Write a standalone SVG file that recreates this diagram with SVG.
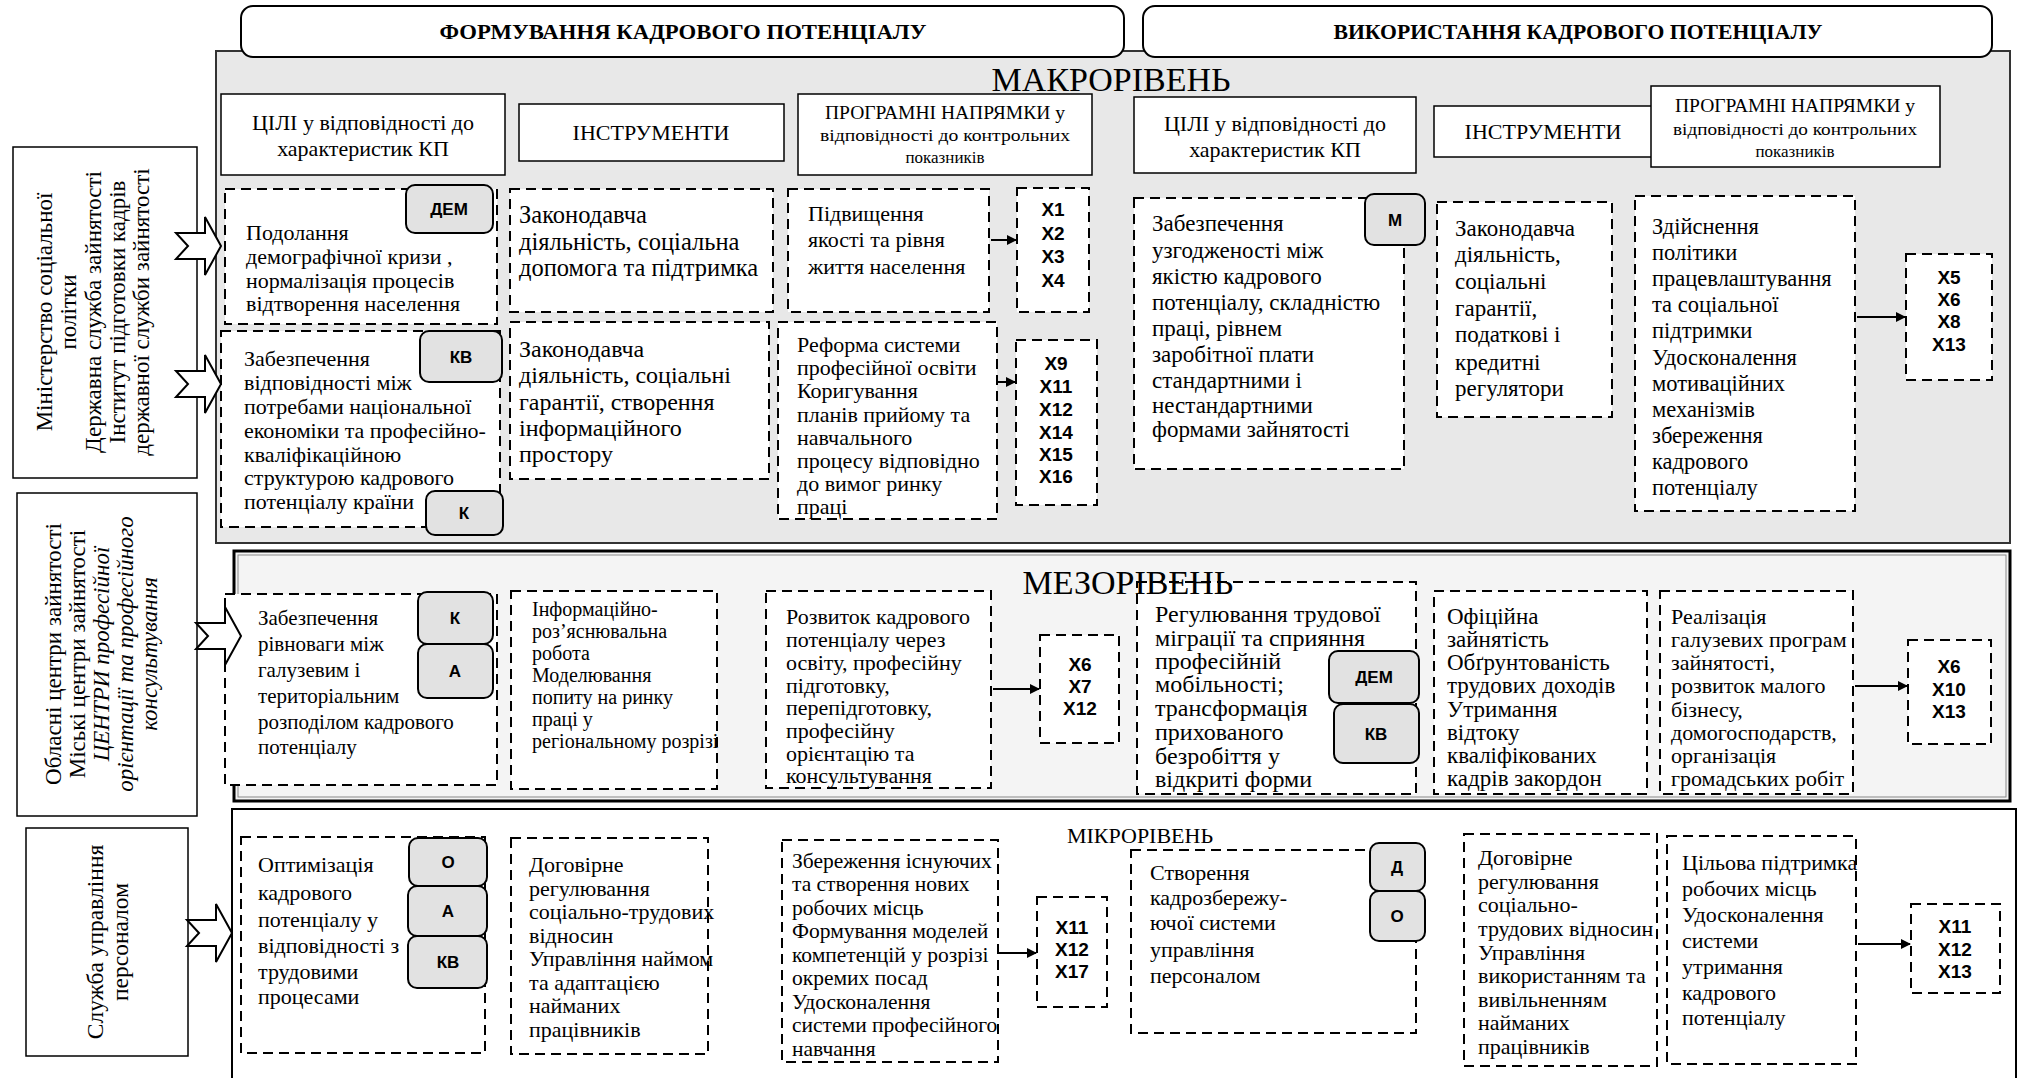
<svg xmlns="http://www.w3.org/2000/svg" width="2019" height="1078" viewBox="0 0 2019 1078">
<style>
.t{font-family:"Liberation Serif","Times New Roman","DejaVu Serif",serif;font-size:22px;fill:#000}
.h{font-family:"Liberation Serif","Times New Roman","DejaVu Serif",serif;font-size:22px;fill:#000;text-anchor:middle}
.hb{font-family:"Liberation Serif","Times New Roman","DejaVu Serif",serif;font-size:22px;font-weight:bold;fill:#000;text-anchor:middle}
.lv{font-family:"Liberation Serif","Times New Roman","DejaVu Serif",serif;font-size:34px;fill:#000;text-anchor:middle}
.bg{font-family:"Liberation Sans",Arial,sans-serif;font-weight:bold;font-size:17px;fill:#000;text-anchor:middle}
.x{font-family:"Liberation Sans",Arial,sans-serif;font-weight:bold;font-size:19px;fill:#000;text-anchor:middle}
.d{fill:#fff;stroke:#000;stroke-width:2;stroke-dasharray:10 6}
.s{fill:#fff;stroke:#000;stroke-width:1.5}
.badge{fill:#e2e2e2;stroke:#000;stroke-width:2}
.ba{fill:#fff;stroke:#000;stroke-width:2}
.cn{stroke:#000;stroke-width:2;fill:none}
</style>
<defs>
<marker id="ah" markerWidth="10" markerHeight="10" refX="9" refY="5" orient="auto" markerUnits="userSpaceOnUse">
<path d="M0,0 L10,5 L0,10 Z" fill="#000"/>
</marker>
</defs>

<!-- panels -->
<rect x="216" y="51" width="1794" height="492" fill="#e8e8e8" stroke="#333" stroke-width="2"/>
<rect x="234" y="551" width="1776" height="250" fill="#f4f4f4" stroke="#000" stroke-width="3"/>
<rect x="238" y="555" width="1768" height="242" fill="none" stroke="#888" stroke-width="1"/>
<rect x="232" y="809" width="1784" height="280" fill="#fff" stroke="#000" stroke-width="2"/>

<!-- headers -->
<g id="hdr-form"><rect x="241" y="6" width="883" height="51" rx="12" class="ba"/><text class="hb" x="683" y="39" textLength="487" lengthAdjust="spacingAndGlyphs">ФОРМУВАННЯ КАДРОВОГО ПОТЕНЦІАЛУ</text></g>
<g id="hdr-use"><rect x="1143" y="6" width="849" height="51" rx="12" class="ba"/><text class="hb" x="1578" y="39" textLength="489" lengthAdjust="spacingAndGlyphs">ВИКОРИСТАННЯ КАДРОВОГО ПОТЕНЦІАЛУ</text></g>

<!-- column headers -->
<g id="h-goals1"><rect x="221" y="94" width="284" height="81" class="s"/><text class="h"><tspan x="363" y="130">ЦІЛІ у відповідності до</tspan><tspan x="363" y="156">характеристик КП</tspan></text></g>
<g id="h-tools1"><rect x="519" y="104" width="265" height="57" class="s"/><text class="h" x="651" y="140">ІНСТРУМЕНТИ</text></g>
<g id="h-prog1"><rect x="798" y="94" width="294" height="81" class="s"/>
<text class="h" x="945" y="119" style="font-size:18px" textLength="240" lengthAdjust="spacingAndGlyphs">ПРОГРАМНІ НАПРЯМКИ у</text>
<text class="h" x="945" y="141" style="font-size:17px" textLength="250" lengthAdjust="spacingAndGlyphs">відповідності до контрольних</text>
<text class="h" x="945" y="163" style="font-size:17px">показників</text></g>
<g id="h-goals2"><rect x="1134" y="97" width="282" height="76" class="s"/><text class="h"><tspan x="1275" y="131">ЦІЛІ у відповідності до</tspan><tspan x="1275" y="157">характеристик КП</tspan></text></g>
<g id="h-tools2"><rect x="1434" y="106" width="218" height="51" class="s"/><text class="h" x="1543" y="139">ІНСТРУМЕНТИ</text></g>
<g id="h-prog2"><rect x="1651" y="86" width="289" height="81" class="s"/>
<text class="h" x="1795" y="112" style="font-size:18px" textLength="240" lengthAdjust="spacingAndGlyphs">ПРОГРАМНІ НАПРЯМКИ у</text>
<text class="h" x="1795" y="135" style="font-size:17px" textLength="244" lengthAdjust="spacingAndGlyphs">відповідності до контрольних</text>
<text class="h" x="1795" y="157" style="font-size:17px">показників</text></g>

<!-- left actor boxes -->
<g id="actor-macro"><rect x="13" y="147" width="184" height="331" class="s"/>
<text class="h" style="font-size:23px" transform="translate(52,312) rotate(-90)">Міністерство соціальної</text>
<text class="h" style="font-size:23px" transform="translate(76,312) rotate(-90)">політки</text>
<text class="h" style="font-size:23px" transform="translate(101,312) rotate(-90)">Державна  служба зайнятості</text>
<text class="h" style="font-size:23px" transform="translate(125,312) rotate(-90)">Інститут підготовки кадрів</text>
<text class="h" style="font-size:23px" transform="translate(149,312) rotate(-90)">державної служби зайнятості</text></g>
<g id="actor-meso"><rect x="17" y="493" width="180" height="323" class="s"/>
<text class="h" style="font-size:23px" transform="translate(61,654) rotate(-90)">Обласні центри зайнятості</text>
<text class="h" style="font-size:23px" transform="translate(85,654) rotate(-90)">Міські центри зайнятості</text>
<text class="h" style="font-size:23px" transform="translate(109,654) rotate(-90)" font-style="italic">ЦЕНТРИ професійної</text>
<text class="h" style="font-size:23px" transform="translate(133,654) rotate(-90)" font-style="italic">орієнтації та професійного</text>
<text class="h" style="font-size:23px" transform="translate(157,654) rotate(-90)" font-style="italic">консультування</text></g>
<g id="actor-micro"><rect x="26" y="828" width="162" height="228" class="s"/>
<text class="h" style="font-size:23.5px" transform="translate(103,942) rotate(-90)">Служба управління</text>
<text class="h" style="font-size:23.5px" transform="translate(128,942) rotate(-90)">персоналом</text></g>

<!-- MACRO -->
<g id="m-goal-dem"><rect x="225" y="189" width="272" height="135" class="d"/>
<text class="t"><tspan x="246" y="240">Подолання</tspan><tspan x="246" y="264">демографічної кризи ,</tspan><tspan x="246" y="288">нормалізація  процесів</tspan><tspan x="246" y="311">відтворення населення</tspan></text>
<rect x="406" y="185" width="87" height="48" rx="9" class="badge"/><text class="bg" x="449" y="215">ДЕМ</text></g>

<g id="m-tool1"><rect x="510" y="189" width="263" height="123" class="d"/>
<text class="t" style="font-size:24.5px"><tspan x="519" y="223">Законодавча</tspan><tspan x="519" y="250">діяльність, соціальна</tspan><tspan x="519" y="276">допомога та підтримка</tspan></text></g>

<g id="m-prog1"><rect x="788" y="189" width="201" height="123" class="d"/>
<text class="t"><tspan x="808" y="221">Підвищення</tspan><tspan x="808" y="247">якості та рівня</tspan><tspan x="808" y="274">життя населення</tspan></text></g>

<g id="m-x1"><rect x="1017" y="188" width="72" height="124" class="d"/>
<text class="x"><tspan x="1053" y="216">X1</tspan><tspan x="1053" y="240">X2</tspan><tspan x="1053" y="263">X3</tspan><tspan x="1053" y="287">X4</tspan></text></g>

<g id="m-goal-kv"><rect x="221" y="331" width="279" height="196" class="d"/>
<text class="t"><tspan x="244" y="366">Забезпечення</tspan><tspan x="244" y="390">відповідності між</tspan><tspan x="244" y="414">потребами національної</tspan><tspan x="244" y="438">економіки та професійно-</tspan><tspan x="244" y="462">кваліфікаційною</tspan><tspan x="244" y="485">структурою кадрового</tspan><tspan x="244" y="509">потенціалу країни</tspan></text>
<rect x="420" y="331" width="82" height="51" rx="9" class="badge"/><text class="bg" x="461" y="363">КВ</text>
<rect x="426" y="491" width="77" height="44" rx="9" class="badge"/><text class="bg" x="464" y="519">К</text></g>

<g id="m-tool2"><rect x="510" y="322" width="259" height="157" class="d"/>
<text class="t" style="font-size:24px"><tspan x="519" y="357">Законодавча</tspan><tspan x="519" y="383">діяльність, соціальні</tspan><tspan x="519" y="410">гарантії,  створення</tspan><tspan x="519" y="436">інформаційного</tspan><tspan x="519" y="462">простору</tspan></text></g>

<g id="m-prog2"><rect x="778" y="322" width="219" height="197" class="d"/>
<text class="t"><tspan x="797" y="352">Реформа системи</tspan><tspan x="797" y="375">професійної освіти</tspan><tspan x="797" y="398">Коригування</tspan><tspan x="797" y="422">планів прийому та</tspan><tspan x="797" y="445">навчального</tspan><tspan x="797" y="468">процесу відповідно</tspan><tspan x="797" y="491">до вимог ринку</tspan><tspan x="797" y="514">праці</tspan></text></g>

<g id="m-x2"><rect x="1016" y="340" width="81" height="165" class="d"/>
<text class="x"><tspan x="1056" y="370">X9</tspan><tspan x="1056" y="393">X11</tspan><tspan x="1056" y="416">X12</tspan><tspan x="1056" y="439">X14</tspan><tspan x="1056" y="461">X15</tspan><tspan x="1056" y="483">X16</tspan></text></g>

<g id="m-goal-m"><rect x="1134" y="198" width="270" height="271" class="d"/>
<text class="t" style="font-size:23px"><tspan x="1152" y="231">Забезпечення</tspan><tspan x="1152" y="258">узгодженості між</tspan><tspan x="1152" y="284">якістю кадрового</tspan><tspan x="1152" y="310">потенціалу, складністю</tspan><tspan x="1152" y="336">праці, рівнем</tspan><tspan x="1152" y="362">заробітної плати</tspan><tspan x="1152" y="388">стандартними і</tspan><tspan x="1152" y="413">нестандартними</tspan><tspan x="1152" y="437">формами зайнятості</tspan></text>
<rect x="1365" y="194" width="60" height="51" rx="9" class="badge"/><text class="bg" x="1395" y="226">М</text></g>

<g id="m-tool3"><rect x="1437" y="202" width="175" height="215" class="d"/>
<text class="t" style="font-size:23px"><tspan x="1455" y="236">Законодавча</tspan><tspan x="1455" y="262">діяльність,</tspan><tspan x="1455" y="289">соціальні</tspan><tspan x="1455" y="316">гарантії,</tspan><tspan x="1455" y="342">податкові і</tspan><tspan x="1455" y="370">кредитні</tspan><tspan x="1455" y="396">регулятори</tspan></text></g>

<g id="m-prog3"><rect x="1635" y="196" width="220" height="315" class="d"/>
<text class="t" style="font-size:22.5px"><tspan x="1652" y="234">Здійснення</tspan><tspan x="1652" y="260">політики</tspan><tspan x="1652" y="286">працевлаштування</tspan><tspan x="1652" y="312">та соціальної</tspan><tspan x="1652" y="338">підтримки</tspan><tspan x="1652" y="365">Удосконалення</tspan><tspan x="1652" y="391">мотиваційних</tspan><tspan x="1652" y="417">механізмів</tspan><tspan x="1652" y="443">збереження</tspan><tspan x="1652" y="469">кадрового</tspan><tspan x="1652" y="495">потенціалу</tspan></text></g>

<g id="m-x3"><rect x="1906" y="254" width="86" height="126" class="d"/>
<text class="x"><tspan x="1949" y="284">X5</tspan><tspan x="1949" y="306">X6</tspan><tspan x="1949" y="328">X8</tspan><tspan x="1949" y="351">X13</tspan></text></g>

<!-- MESO -->
<g id="s-goal"><rect x="225" y="594" width="272" height="191" class="d"/>
<text class="t" style="font-size:21px"><tspan x="258" y="625">Забезпечення</tspan><tspan x="258" y="651">рівноваги між</tspan><tspan x="258" y="677">галузевим і</tspan><tspan x="258" y="703">територіальним</tspan><tspan x="258" y="729">розподілом кадрового</tspan><tspan x="258" y="754">потенціалу</tspan></text>
<rect x="418" y="592" width="75" height="52" rx="9" class="badge"/><text class="bg" x="455" y="624">К</text>
<rect x="418" y="644" width="75" height="54" rx="9" class="badge"/><text class="bg" x="455" y="677">А</text></g>

<g id="s-tool1"><rect x="511" y="591" width="206" height="198" class="d"/>
<text class="t" style="font-size:20px"><tspan x="532" y="616">Інформаційно-</tspan><tspan x="532" y="638">роз’яснювальна</tspan><tspan x="532" y="660">робота</tspan><tspan x="532" y="682">Моделювання</tspan><tspan x="532" y="704">попиту на ринку</tspan><tspan x="532" y="726">праці у</tspan><tspan x="532" y="748">регіональному розрізі</tspan></text></g>

<g id="s-prog1"><rect x="766" y="591" width="225" height="197" class="d"/>
<text class="t"><tspan x="786" y="624">Розвиток кадрового</tspan><tspan x="786" y="647">потенціалу через</tspan><tspan x="786" y="670">освіту, професійну</tspan><tspan x="786" y="693">підготовку,</tspan><tspan x="786" y="715">перепідготовку,</tspan><tspan x="786" y="738">професійну</tspan><tspan x="786" y="761">орієнтацію та</tspan><tspan x="786" y="783">консультування</tspan></text></g>

<g id="s-x1"><rect x="1040" y="635" width="79" height="108" class="d"/>
<text class="x"><tspan x="1080" y="671">X6</tspan><tspan x="1080" y="693">X7</tspan><tspan x="1080" y="715">X12</tspan></text></g>

<g id="s-goal2"><rect x="1137" y="582" width="279" height="212" class="d"/>
<text class="t" style="font-size:24px"><tspan x="1155" y="622">Регулювання трудової</tspan><tspan x="1155" y="646">міграції та сприяння</tspan><tspan x="1155" y="669">професійній</tspan><tspan x="1155" y="692">мобільності;</tspan><tspan x="1155" y="716">трансформація</tspan><tspan x="1155" y="740">прихованого</tspan><tspan x="1155" y="764">безробіття у</tspan><tspan x="1155" y="787">відкриті форми</tspan></text>
<rect x="1329" y="651" width="90" height="52" rx="9" class="badge"/><text class="bg" x="1374" y="683">ДЕМ</text>
<rect x="1334" y="704" width="85" height="59" rx="9" class="badge"/><text class="bg" x="1376" y="740">КВ</text></g>

<g id="s-tool2"><rect x="1434" y="591" width="213" height="203" class="d"/>
<text class="t" style="font-size:23px"><tspan x="1447" y="624">Офіційна</tspan><tspan x="1447" y="647">зайнятість</tspan><tspan x="1447" y="670">Обґрунтованість</tspan><tspan x="1447" y="693">трудових доходів</tspan><tspan x="1447" y="717">Утримання</tspan><tspan x="1447" y="740">відтоку</tspan><tspan x="1447" y="763">кваліфікованих</tspan><tspan x="1447" y="786">кадрів закордон</tspan></text></g>

<g id="s-prog2"><rect x="1660" y="591" width="193" height="203" class="d"/>
<text class="t"><tspan x="1671" y="624">Реалізація</tspan><tspan x="1671" y="647">галузевих програм</tspan><tspan x="1671" y="670">зайнятості,</tspan><tspan x="1671" y="693">розвиток малого</tspan><tspan x="1671" y="717">бізнесу,</tspan><tspan x="1671" y="740">домогосподарств,</tspan><tspan x="1671" y="763">організація</tspan><tspan x="1671" y="786">громадських робіт</tspan></text></g>

<g id="s-x2"><rect x="1908" y="640" width="83" height="104" class="d"/>
<text class="x"><tspan x="1949" y="673">X6</tspan><tspan x="1949" y="696">X10</tspan><tspan x="1949" y="718">X13</tspan></text></g>

<!-- MICRO -->
<g id="u-goal"><rect x="241" y="837" width="244" height="216" class="d"/>
<text class="t"><tspan x="258" y="872">Оптимізація</tspan><tspan x="258" y="900">кадрового</tspan><tspan x="258" y="927">потенціалу у</tspan><tspan x="258" y="953">відповідності з</tspan><tspan x="258" y="979">трудовими</tspan><tspan x="258" y="1004">процесами</tspan></text>
<rect x="409" y="838" width="78" height="48" rx="9" class="badge"/><text class="bg" x="448" y="868">О</text>
<rect x="408" y="886" width="79" height="50" rx="9" class="badge"/><text class="bg" x="448" y="917">А</text>
<rect x="408" y="936" width="79" height="52" rx="9" class="badge"/><text class="bg" x="448" y="968">КВ</text></g>

<g id="u-tool1"><rect x="511" y="838" width="197" height="216" class="d"/>
<text class="t"><tspan x="529" y="872">Договірне</tspan><tspan x="529" y="896">регулювання</tspan><tspan x="529" y="919">соціально-трудових</tspan><tspan x="529" y="943">відносин</tspan><tspan x="529" y="966">Управління наймом</tspan><tspan x="529" y="990">та адаптацією</tspan><tspan x="529" y="1013">найманих</tspan><tspan x="529" y="1037">працівників</tspan></text></g>

<g id="u-prog1"><rect x="782" y="840" width="216" height="222" class="d"/>
<text class="t" style="font-size:21.5px"><tspan x="792" y="868">Збереження існуючих</tspan><tspan x="792" y="891">та створення нових</tspan><tspan x="792" y="915">робочих місць</tspan><tspan x="792" y="938">Формування моделей</tspan><tspan x="792" y="962">компетенцій у розрізі</tspan><tspan x="792" y="985">окремих посад</tspan><tspan x="792" y="1009">Удосконалення</tspan><tspan x="792" y="1032">системи професійного</tspan><tspan x="792" y="1056">навчання</tspan></text></g>

<g id="u-x1"><rect x="1037" y="897" width="70" height="110" class="d"/>
<text class="x"><tspan x="1072" y="934">X11</tspan><tspan x="1072" y="956">X12</tspan><tspan x="1072" y="978">X17</tspan></text></g>

<g id="u-goal2"><rect x="1131" y="850" width="285" height="183" class="d"/>
<text class="t"><tspan x="1150" y="880">Створення</tspan><tspan x="1150" y="905">кадрозбережу-</tspan><tspan x="1150" y="930">ючої системи</tspan><tspan x="1150" y="957">управління</tspan><tspan x="1150" y="983">персоналом</tspan></text>
<rect x="1370" y="843" width="55" height="48" rx="9" class="badge"/><text class="bg" x="1397" y="873">Д</text>
<rect x="1370" y="891" width="55" height="50" rx="9" class="badge"/><text class="bg" x="1397" y="922">О</text></g>

<g id="u-tool2"><rect x="1464" y="834" width="193" height="232" class="d"/>
<text class="t"><tspan x="1478" y="865">Договірне</tspan><tspan x="1478" y="889">регулювання</tspan><tspan x="1478" y="912">соціально-</tspan><tspan x="1478" y="936">трудових відносин</tspan><tspan x="1478" y="960">Управління</tspan><tspan x="1478" y="983">використанням та</tspan><tspan x="1478" y="1007">вивільненням</tspan><tspan x="1478" y="1030">найманих</tspan><tspan x="1478" y="1054">працівників</tspan></text></g>

<g id="u-prog2"><rect x="1667" y="836" width="189" height="228" class="d"/>
<text class="t"><tspan x="1682" y="870">Цільова підтримка</tspan><tspan x="1682" y="896">робочих місць</tspan><tspan x="1682" y="922">Удосконалення</tspan><tspan x="1682" y="948">системи</tspan><tspan x="1682" y="974">утримання</tspan><tspan x="1682" y="1000">кадрового</tspan><tspan x="1682" y="1025">потенціалу</tspan></text></g>

<g id="u-x2"><rect x="1911" y="904" width="89" height="89" class="d"/>
<text class="x"><tspan x="1955" y="933">X11</tspan><tspan x="1955" y="956">X12</tspan><tspan x="1955" y="978">X13</tspan></text></g>

<!-- level labels (drawn on top) -->
<text class="lv" x="1111" y="91">МАКРОРІВЕНЬ</text>
<text class="lv" x="1128" y="594">МЕЗОРІВЕНЬ</text>
<text class="lv" x="1140" y="843" style="font-size:22px">МІКРОРІВЕНЬ</text>

<!-- connectors -->
<g id="connectors">
<line class="cn" x1="991" y1="240" x2="1016" y2="240" marker-end="url(#ah)"/>
<line class="cn" x1="998" y1="382" x2="1015" y2="382" marker-end="url(#ah)"/>
<line class="cn" x1="1857" y1="317" x2="1905" y2="317" marker-end="url(#ah)"/>
<line class="cn" x1="993" y1="689" x2="1039" y2="689" marker-end="url(#ah)"/>
<line class="cn" x1="1855" y1="686" x2="1907" y2="686" marker-end="url(#ah)"/>
<line class="cn" x1="999" y1="953" x2="1036" y2="953" marker-end="url(#ah)"/>
<line class="cn" x1="1858" y1="944" x2="1910" y2="944" marker-end="url(#ah)"/>
<path class="ba" d="M176,233 L205,233 L205,217 L221,246 L205,275 L205,259 L176,259 L188,246 Z"/>
<path class="ba" d="M176,371 L205,371 L205,355 L221,384 L205,413 L205,397 L176,397 L188,384 Z"/>
<path class="ba" d="M196,623 L225,623 L225,607 L241,636 L225,665 L225,649 L196,649 L208,636 Z"/>
<path class="ba" d="M187,920 L216,920 L216,904 L232,933 L216,962 L216,946 L187,946 L199,933 Z"/>
</g>
</svg>
